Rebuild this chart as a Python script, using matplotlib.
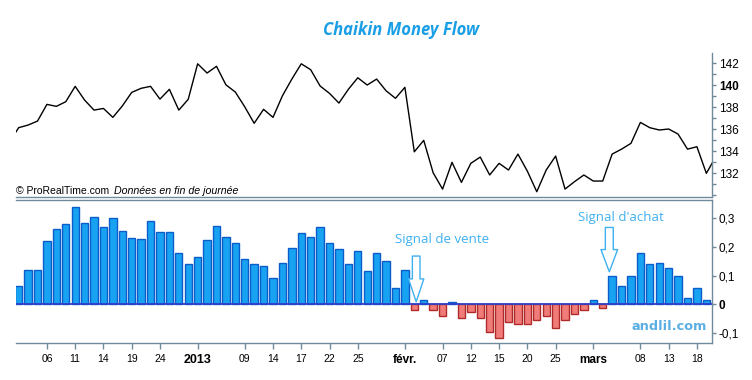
import matplotlib
matplotlib.use("Agg")
import matplotlib.pyplot as plt
from matplotlib.ticker import FixedLocator, MultipleLocator, FuncFormatter

# daily closes, Nov 30 2012 .. Mar 20 2013 (first/last only partly visible)
PRICE = [134.8,
         136.15, 136.39, 136.75, 138.27, 138.09, 138.51, 139.91, 138.66, 137.75, 137.9,
         137.09, 138.12, 139.36, 139.73, 139.91, 138.75, 139.64, 137.75, 138.73, 141.96,
         141.12, 141.73, 140.05, 139.39, 138.05, 136.55, 137.82, 137.09, 139.05, 140.57,
         141.96, 141.42, 139.94, 139.27, 138.39, 139.64, 140.69, 140.03, 140.57, 139.51,
         138.82, 139.82, 133.96, 135.0, 132.05, 130.57, 133.0, 131.18, 132.91, 133.48,
         131.85, 132.91, 132.3, 133.75, 132.2, 130.33, 132.3, 133.57, 130.57, 131.24,
         131.85, 131.3, 131.3, 133.75, 134.2, 134.73, 136.63, 136.15, 135.94, 136.03,
         135.57, 134.2, 134.42, 132.0,
         133.5]

# Chaikin Money Flow, Dec 3 2012 .. Mar 19 2013
CMF = [0.063, 0.118, 0.118, 0.220, 0.262, 0.280, 0.339, 0.283, 0.304, 0.269,
       0.301, 0.255, 0.231, 0.227, 0.290, 0.252, 0.252, 0.178, 0.140, 0.164,
       0.224, 0.273, 0.234, 0.213, 0.157, 0.140, 0.133, 0.091, 0.143, 0.196,
       0.248, 0.234, 0.269, 0.213, 0.192, 0.140, 0.185, 0.115, 0.178, 0.150,
       0.056, 0.119, -0.022, 0.013, -0.019, -0.043, 0.006, -0.047, -0.026, -0.050,
       -0.096, -0.117, -0.061, -0.071, -0.071, -0.057, -0.040, -0.085, -0.057, -0.033,
       -0.022, 0.016, -0.012, 0.100, 0.062, 0.100, 0.177, 0.139, 0.142, 0.125,
       0.100, 0.023, 0.055, 0.013]

TICK_POS    = [3, 6, 9, 12, 15, 19, 24, 27, 30, 33, 36, 41, 45, 48, 51, 54, 57, 61, 66, 69, 72]
TICK_LABELS = ["06", "11", "14", "19", "24", "2013", "09", "14", "17", "22", "25",
               "févr.", "07", "12", "15", "20", "25", "mars", "08", "13", "18"]
BOLD_LABELS = {"2013", "févr.", "mars"}

SELL_IDX, BUY_IDX = 42.2, 62.7

FRAME  = "#6f8b9a"
BLUE   = "#18a2f2"
BLUE_E = "#0c5ccb"
RED    = "#f07c7a"
RED_E  = "#b02a2a"
ZERO   = "#2f3fc8"
SIGNAL = "#3fb0f0"
TXT    = "Liberation Sans"

fig = plt.figure(figsize=(7.52, 3.80), dpi=100)
ax_p = fig.add_axes([0.0213, 0.4816, 0.9255, 0.3789])
ax_c = fig.add_axes([0.0213, 0.0966, 0.9255, 0.3771])

x_lim = (-0.28, 73.6)

# price panel
xs_price = list(range(-1, len(PRICE) - 1))
ax_p.plot(xs_price, PRICE, color="black", lw=1.0)
ax_p.set_xlim(*x_lim)
ax_p.set_ylim(129.85, 142.94)
ax_p.xaxis.set_visible(False)
ax_p.yaxis.tick_right()
ax_p.yaxis.set_major_locator(FixedLocator([132, 134, 136, 138, 140, 142]))
ax_p.yaxis.set_minor_locator(MultipleLocator(1))
ax_p.tick_params(axis="y", which="both", colors=FRAME, labelcolor="black",
                 labelsize=8.5, length=3, width=1, pad=2)
for lab in ax_p.get_yticklabels():
    lab.set_family(TXT)
    if lab.get_text() == "140":
        lab.set_fontweight("bold")
for s in ["left", "top"]:
    ax_p.spines[s].set_visible(False)
for s in ["right", "bottom"]:
    ax_p.spines[s].set_color(FRAME)
    ax_p.spines[s].set_linewidth(1.0)

# CMF panel
xs = list(range(len(CMF)))
colors = [BLUE if v >= 0 else RED for v in CMF]
edges  = [BLUE_E if v >= 0 else RED_E for v in CMF]
ax_c.bar(xs, CMF, width=0.78, color=colors, edgecolor=edges, linewidth=1.0, zorder=2)
ax_c.axhline(0, color=ZERO, lw=1.3, zorder=3)
ax_c.set_xlim(*x_lim)
ax_c.set_ylim(-0.137, 0.364)
ax_c.yaxis.tick_right()
ax_c.set_yticks([-0.1, 0, 0.1, 0.2, 0.3])
ax_c.yaxis.set_major_formatter(FuncFormatter(
    lambda v, p: "0" if abs(v) < 1e-9 else f"{v:.1f}".replace(".", ",")))
ax_c.tick_params(axis="y", colors=FRAME, labelcolor="black", labelsize=8.5,
                 length=3, width=1, pad=2)
ax_c.set_xticks(TICK_POS)
ax_c.set_xticklabels(TICK_LABELS)
ax_c.tick_params(axis="x", colors=FRAME, labelcolor="black", labelsize=7.5,
                 length=4, width=1, pad=4)
fig.canvas.draw()
for lab in ax_c.get_yticklabels():
    lab.set_family(TXT)
    if lab.get_text() == "0":
        lab.set_fontweight("bold")
for lab in ax_c.get_xticklabels():
    lab.set_family(TXT)
    if lab.get_text() in BOLD_LABELS:
        lab.set_fontweight("bold")
        lab.set_fontsize(9 if lab.get_text() == "2013" else 8.5)
ax_c.spines["left"].set_visible(False)
for s in ["right", "bottom", "top"]:
    ax_c.spines[s].set_color(FRAME)
    ax_c.spines[s].set_linewidth(1.0)

# signal arrows + labels
arrow_kw = dict(arrowstyle="simple,head_length=1.65,head_width=1.1,tail_width=0.55",
                fc="white", ec=SIGNAL, lw=1.0, mutation_scale=10,
                shrinkA=0, shrinkB=0)
ax_c.annotate("", xy=(SELL_IDX, 0.008), xytext=(SELL_IDX, 0.168),
              arrowprops=arrow_kw, zorder=5)
ax_c.annotate("", xy=(BUY_IDX, 0.113), xytext=(BUY_IDX, 0.268),
              arrowprops=dict(arrow_kw, arrowstyle="simple,head_length=1.6,head_width=1.2,tail_width=0.57"),
              zorder=5)
ax_c.text(40.0, 0.226, "Signal de vente", color=SIGNAL, fontsize=9.5,
          family="Open Sans", va="center", ha="left")
ax_c.text(59.4, 0.303, "Signal d'achat", color=SIGNAL, fontsize=9.5,
          family="Open Sans", va="center", ha="left")

# texts
fig.text(401 / 752, 1 - 30 / 380, "Chaikin Money Flow", color="#1a9fe6",
         fontsize=12, fontweight="bold", fontstyle="italic", family="Open Sans",
         ha="center", va="center")
fig.text(16 / 752, 1 - 191 / 380, "© ProRealTime.com", fontsize=7.5,
         family=TXT, ha="left", va="center")
fig.text(114 / 752, 1 - 191 / 380, "Données en fin de journée", fontsize=7.7,
         family=TXT, style="italic", ha="left", va="center")
fig.text(669 / 752, 1 - 327 / 380, "andlil.com", color="#5aaee3", fontsize=9.3,
         fontweight="bold", family="DejaVu Sans", ha="center", va="center")

fig.savefig("out.png", dpi=100)
